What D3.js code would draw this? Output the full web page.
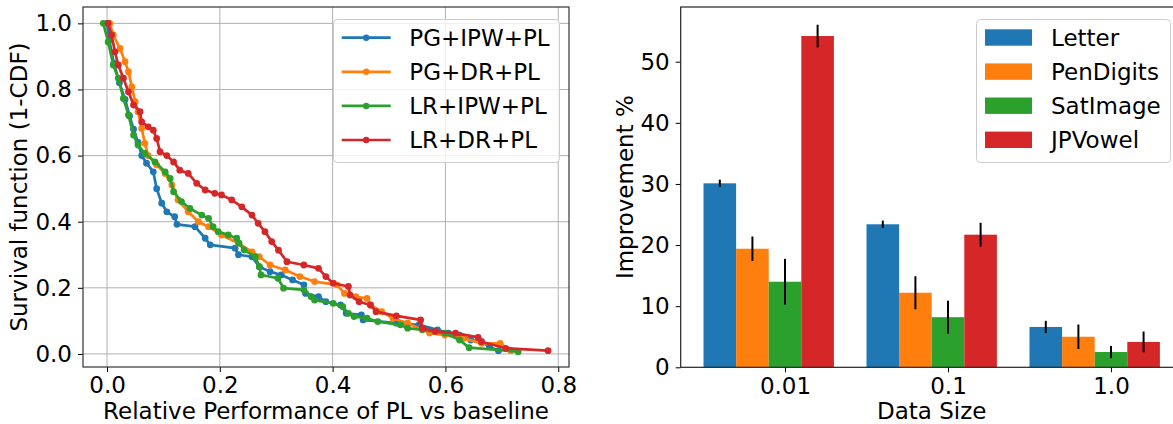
<!DOCTYPE html>
<html>
<head>
<meta charset="utf-8">
<script src="https://cdn.jsdelivr.net/npm/d3@7"></script>
<style>
  html, body { margin: 0; padding: 0; background: #fff; }
  svg { display: block; font-family: "DejaVu Sans", sans-serif; }
</style>
</head>
<body>
<svg id="chart" width="1173" height="424"></svg>
<script>
// ---------------- data ----------------
const survivalNames = ["PG+IPW+PL", "PG+DR+PL", "LR+IPW+PL", "LR+DR+PL"];
const survivalXTicks = [0.0, 0.2, 0.4, 0.6, 0.8];
const survivalYTicks = [0.0, 0.2, 0.4, 0.6, 0.8, 1.0];

const pgIpwPl = [[0.0,1.0],[0.004,0.95],[0.012,0.88],[0.022,0.82],[0.032,0.77],[0.04,0.72],[0.047,0.68],[0.055,0.64],[0.0615,0.60],[0.07,0.577],[0.082,0.551],[0.088,0.50],[0.097,0.456],[0.106,0.43],[0.12,0.415],[0.124,0.392],[0.156,0.385],[0.174,0.35],[0.183,0.33],[0.227,0.32],[0.233,0.30],[0.257,0.294],[0.27,0.264],[0.289,0.249],[0.309,0.239],[0.329,0.224],[0.349,0.209],[0.352,0.183],[0.375,0.173],[0.388,0.158],[0.414,0.148],[0.424,0.123],[0.451,0.118],[0.454,0.103],[0.513,0.093],[0.553,0.088],[0.586,0.073],[0.605,0.063],[0.625,0.057],[0.645,0.042],[0.664,0.037],[0.678,0.022],[0.694,0.01]];

const pgDrPl = [[0.005,1.0],[0.011,0.965],[0.023,0.924],[0.032,0.884],[0.038,0.854],[0.044,0.808],[0.05,0.763],[0.055,0.733],[0.0615,0.682],[0.067,0.637],[0.073,0.60],[0.088,0.572],[0.103,0.546],[0.115,0.511],[0.126,0.466],[0.144,0.43],[0.162,0.40],[0.18,0.385],[0.203,0.36],[0.233,0.335],[0.257,0.309],[0.27,0.294],[0.289,0.269],[0.316,0.254],[0.342,0.234],[0.368,0.219],[0.408,0.209],[0.421,0.183],[0.441,0.173],[0.461,0.168],[0.467,0.148],[0.487,0.128],[0.507,0.108],[0.533,0.093],[0.572,0.063],[0.599,0.057],[0.632,0.047],[0.664,0.032],[0.697,0.032],[0.716,0.01]];

const lrIpwPl = [[-0.0066,1.0],[0.002,0.944],[0.011,0.874],[0.02,0.834],[0.029,0.773],[0.038,0.723],[0.047,0.662],[0.055,0.632],[0.067,0.607],[0.085,0.581],[0.103,0.551],[0.112,0.531],[0.118,0.491],[0.132,0.461],[0.147,0.44],[0.168,0.42],[0.18,0.41],[0.188,0.385],[0.197,0.37],[0.215,0.36],[0.23,0.35],[0.234,0.335],[0.243,0.315],[0.263,0.294],[0.27,0.264],[0.273,0.239],[0.303,0.229],[0.313,0.199],[0.349,0.194],[0.362,0.173],[0.368,0.163],[0.401,0.153],[0.418,0.143],[0.428,0.123],[0.438,0.113],[0.461,0.108],[0.48,0.098],[0.52,0.088],[0.533,0.078],[0.559,0.073],[0.599,0.063],[0.625,0.042],[0.642,0.019],[0.729,0.007]];

const lrDrPl = [[0.002,1.0],[0.008,0.965],[0.014,0.914],[0.02,0.874],[0.029,0.834],[0.038,0.793],[0.047,0.753],[0.0585,0.733],[0.0615,0.702],[0.073,0.687],[0.082,0.677],[0.088,0.652],[0.094,0.612],[0.106,0.60],[0.118,0.581],[0.129,0.556],[0.144,0.546],[0.159,0.516],[0.174,0.496],[0.191,0.486],[0.203,0.481],[0.221,0.466],[0.239,0.445],[0.257,0.42],[0.268,0.395],[0.28,0.37],[0.292,0.34],[0.304,0.314],[0.319,0.279],[0.349,0.269],[0.375,0.259],[0.388,0.234],[0.401,0.214],[0.428,0.204],[0.431,0.178],[0.447,0.158],[0.467,0.148],[0.477,0.128],[0.513,0.115],[0.556,0.103],[0.559,0.078],[0.582,0.068],[0.618,0.063],[0.658,0.05],[0.664,0.037],[0.707,0.017],[0.782,0.01]];

const dataSizes = ["0.01", "0.1", "1.0"];
const datasets = ["Letter", "PenDigits", "SatImage", "JPVowel"];
const letterMean = [30.1, 23.4, 6.6];
const letterErr = [0.6, 0.6, 1.0];
const penDigitsMean = [19.4, 12.2, 5.0];
const penDigitsErr = [2.0, 2.7, 2.0];
const satImageMean = [14.0, 8.2, 2.5];
const satImageErr = [3.75, 2.7, 1.0];
const jpVowelMean = [54.2, 21.7, 4.15];
const jpVowelErr = [1.85, 1.95, 1.7];
const improvementTicks = [0, 10, 20, 30, 40, 50];

const colors = ["#1f77b4", "#ff7f0e", "#2ca02c", "#d62728"];

// ---------------- setup ----------------
const svg = d3.select("#chart");
const FONT = 23;
const GRID = "#b0b0b0";
const LABEL_Y = 419;

// ================= LEFT: survival curves =================
const L = { left: 83, right: 569, top: 7, bottom: 367 };
const xS = d3.scaleLinear().domain([-0.0426, 0.8191]).range([L.left, L.right]);
const yS = d3.scaleLinear().domain([-0.0395, 1.0495]).range([L.bottom, L.top]);

const gl = svg.append("g");
gl.append("g").selectAll("line").data(survivalXTicks).join("line")
  .attr("x1", d => xS(d)).attr("x2", d => xS(d))
  .attr("y1", L.top).attr("y2", L.bottom)
  .attr("stroke", GRID).attr("stroke-width", 1);
gl.append("g").selectAll("line").data(survivalYTicks).join("line")
  .attr("x1", L.left).attr("x2", L.right)
  .attr("y1", d => yS(d)).attr("y2", d => yS(d))
  .attr("stroke", GRID).attr("stroke-width", 1);

const series = [pgIpwPl, pgDrPl, lrIpwPl, lrDrPl];
const line = d3.line().x(d => xS(d[0])).y(d => yS(d[1]));
series.forEach((s, i) => {
  const g = gl.append("g");
  g.append("path").attr("d", line(s)).attr("fill", "none")
    .attr("stroke", colors[i]).attr("stroke-width", 2.7).attr("stroke-linejoin", "round");
  g.selectAll("circle").data(s).join("circle")
    .attr("cx", d => xS(d[0])).attr("cy", d => yS(d[1])).attr("r", 3.4)
    .attr("fill", colors[i]);
});

const xAxisL = d3.axisBottom(xS).tickValues(survivalXTicks).tickFormat(d3.format(".1f")).tickSize(5).tickPadding(5);
const yAxisL = d3.axisLeft(yS).tickValues(survivalYTicks).tickFormat(d3.format(".1f")).tickSize(5).tickPadding(6);
const gxl = gl.append("g").attr("transform", `translate(0,${L.bottom})`).call(xAxisL);
const gyl = gl.append("g").attr("transform", `translate(${L.left},0)`).call(yAxisL);
[gxl, gyl].forEach(g => {
  g.select(".domain").remove();
  g.selectAll("text").attr("font-size", FONT).attr("font-family", "DejaVu Sans").attr("fill", "#000");
  g.selectAll("line").attr("stroke", "#000").attr("stroke-width", 1);
});
gl.append("rect").attr("x", L.left).attr("y", L.top)
  .attr("width", L.right - L.left).attr("height", L.bottom - L.top)
  .attr("fill", "none").attr("stroke", "#333").attr("stroke-width", 1.2);

gl.append("text").attr("x", (L.left + L.right) / 2).attr("y", LABEL_Y)
  .attr("text-anchor", "middle").attr("font-size", FONT)
  .text("Relative Performance of PL vs baseline");
gl.append("text").attr("transform", `translate(27,${(L.top + L.bottom) / 2}) rotate(-90)`)
  .attr("text-anchor", "middle").attr("font-size", FONT)
  .text("Survival function (1-CDF)");

const lg = gl.append("g");
lg.append("rect").attr("x", 333.5).attr("y", 19.5).attr("width", 226).attr("height", 143)
  .attr("rx", 4).attr("fill", "#fff").attr("fill-opacity", 0.8)
  .attr("stroke", "#cccccc").attr("stroke-width", 1);
survivalNames.forEach((n, i) => {
  const cy = 37.7 + i * 34.1;
  lg.append("line").attr("x1", 341.7).attr("x2", 390.7).attr("y1", cy).attr("y2", cy)
    .attr("stroke", colors[i]).attr("stroke-width", 2.7);
  lg.append("circle").attr("cx", 366.2).attr("cy", cy).attr("r", 3.2).attr("fill", colors[i]);
  lg.append("text").attr("x", 409.3).attr("y", cy).attr("dy", "0.36em")
    .attr("font-size", FONT).text(n);
});

// ================= RIGHT: bar chart =================
const R = { left: 680.7, right: 1182.7, top: 7, bottom: 367.3 };
const xR = d3.scaleLinear().domain([-0.64, 2.44]).range([R.left, R.right]);
const yR = d3.scaleLinear().domain([0, 58.95]).range([R.bottom, R.top]);
const barW = 0.2;
const means = [letterMean, penDigitsMean, satImageMean, jpVowelMean];
const errs = [letterErr, penDigitsErr, satImageErr, jpVowelErr];

const gr = svg.append("g");
datasets.forEach((ds, k) => {
  const rows = dataSizes.map((s, i) => ({ i, v: means[k][i], e: errs[k][i] }));
  const off = (k - 2) * barW;
  gr.append("g").selectAll("rect").data(rows).join("rect")
    .attr("x", d => xR(d.i + off - barW / 2))
    .attr("width", d => xR(d.i + off + barW / 2) - xR(d.i + off - barW / 2))
    .attr("y", d => yR(d.v)).attr("height", d => yR(0) - yR(d.v))
    .attr("fill", colors[k]);
  gr.append("g").selectAll("line").data(rows).join("line")
    .attr("x1", d => xR(d.i + off)).attr("x2", d => xR(d.i + off))
    .attr("y1", d => yR(d.v - d.e)).attr("y2", d => yR(d.v + d.e))
    .attr("stroke", "#000").attr("stroke-width", 2);
});

const xAxisR = d3.axisBottom(xR).tickValues([0, 1, 2]).tickFormat(i => dataSizes[i]).tickSize(5).tickPadding(5);
const yAxisR = d3.axisLeft(yR).tickValues(improvementTicks).tickFormat(d3.format("d")).tickSize(5).tickPadding(6);
const gxr = gr.append("g").attr("transform", `translate(0,${R.bottom})`).call(xAxisR);
const gyr = gr.append("g").attr("transform", `translate(${R.left},0)`).call(yAxisR);
[gxr, gyr].forEach(g => {
  g.select(".domain").remove();
  g.selectAll("text").attr("font-size", FONT).attr("font-family", "DejaVu Sans").attr("fill", "#000");
  g.selectAll("line").attr("stroke", "#000").attr("stroke-width", 1);
});
gr.append("rect").attr("x", R.left).attr("y", R.top)
  .attr("width", R.right - R.left).attr("height", R.bottom - R.top)
  .attr("fill", "none").attr("stroke", "#222").attr("stroke-width", 1.2);

gr.append("text").attr("x", (R.left + R.right) / 2).attr("y", LABEL_Y)
  .attr("text-anchor", "middle").attr("font-size", FONT).text("Data Size");
gr.append("text").attr("transform", `translate(633,${(R.top + R.bottom) / 2}) rotate(-90)`)
  .attr("text-anchor", "middle").attr("font-size", FONT).text("Improvement %");

const lgr = gr.append("g");
lgr.append("rect").attr("x", 976.5).attr("y", 19.5).attr("width", 194).attr("height", 143)
  .attr("rx", 4).attr("fill", "#fff").attr("fill-opacity", 0.8)
  .attr("stroke", "#cccccc").attr("stroke-width", 1);
datasets.forEach((n, i) => {
  const cy = 37.5 + i * 34.1;
  lgr.append("rect").attr("x", 985).attr("y", cy - 8.2).attr("width", 47).attr("height", 16.4)
    .attr("fill", colors[i]);
  lgr.append("text").attr("x", 1051).attr("y", cy).attr("dy", "0.36em")
    .attr("font-size", FONT).text(n);
});
</script>
</body>
</html>
